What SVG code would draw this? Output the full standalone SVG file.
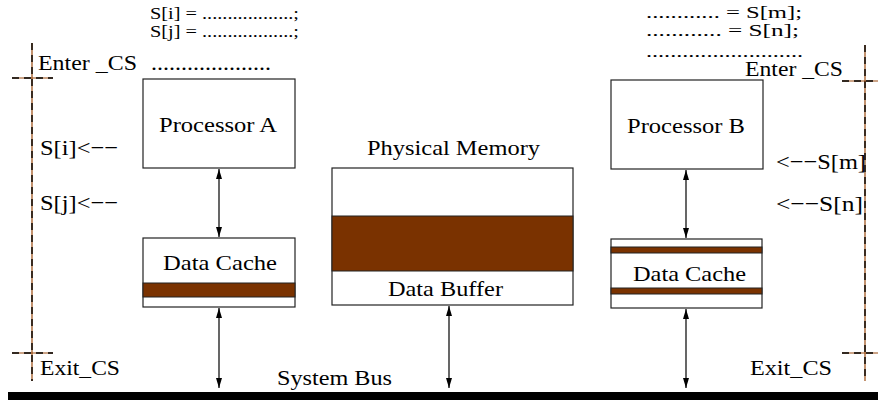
<svg xmlns="http://www.w3.org/2000/svg" width="878" height="400" viewBox="0 0 878 400" font-family="'Liberation Serif', 'DejaVu Serif', 'Times New Roman', serif">
  <style>
    text { font-family: "Liberation Serif", "DejaVu Serif", "Times New Roman", serif; font-size: 22px; fill: #000; }
    .code { font-size: 16.5px; }
    .box { fill: #fff; stroke: #222; stroke-width: 1.2; }
    .band { fill: #7a3200; stroke: #222; stroke-width: 1; }
    .guide { stroke: #9a4a10; stroke-width: 1.2; fill: none; }
    .dash { stroke: #000; stroke-width: 1.4; stroke-dasharray: 7 5; fill: none; }
    .link { stroke: #000; stroke-width: 1.2; fill: none; marker-start: url(#head); marker-end: url(#head); }
  </style>
  <defs>
    <marker id="head" viewBox="0 0 10 10" refX="10" refY="5" markerWidth="10" markerHeight="10" markerUnits="userSpaceOnUse" orient="auto-start-reverse">
      <path d="M0,2 L10,5 L0,8 Z" fill="#000"/>
    </marker>
  </defs>
  <rect width="878" height="400" fill="#fff"/>

  <!-- critical-section guides, left -->
  <g id="guide-left">
    <line class="guide" x1="32" y1="43" x2="32" y2="381"/>
    <line class="dash" x1="32" y1="43" x2="32" y2="381"/>
    <line class="guide" x1="12" y1="78" x2="53" y2="78"/>
    <line class="dash" x1="12" y1="78" x2="53" y2="78"/>
    <line class="guide" x1="12" y1="353" x2="53" y2="353"/>
    <line class="dash" x1="12" y1="353" x2="53" y2="353"/>
  </g>
  <!-- critical-section guides, right -->
  <g id="guide-right">
    <line class="guide" x1="865" y1="45" x2="865" y2="381"/>
    <line class="dash" x1="865" y1="45" x2="865" y2="381"/>
    <line class="guide" x1="842" y1="81" x2="878" y2="81"/>
    <line class="dash" x1="842" y1="81" x2="878" y2="81"/>
    <line class="guide" x1="842" y1="353" x2="878" y2="353"/>
    <line class="dash" x1="842" y1="353" x2="878" y2="353"/>
  </g>

  <!-- code annotations, processor A side -->
  <g id="code-a">
    <text class="code" x="150" y="19" textLength="149" lengthAdjust="spacingAndGlyphs">S[i] = ..................;</text>
    <text class="code" x="150" y="37" textLength="149" lengthAdjust="spacingAndGlyphs">S[j] = ..................;</text>
    <text x="38" y="70" textLength="99" lengthAdjust="spacingAndGlyphs">Enter _CS</text>
    <text x="151" y="70" textLength="120" lengthAdjust="spacingAndGlyphs">....................</text>
    <text x="40" y="155" textLength="78" lengthAdjust="spacingAndGlyphs">S[i]&lt;−−</text>
    <text x="40" y="210" textLength="78" lengthAdjust="spacingAndGlyphs">S[j]&lt;−−</text>
    <text x="40" y="375" textLength="80" lengthAdjust="spacingAndGlyphs">Exit_CS</text>
  </g>

  <!-- code annotations, processor B side -->
  <g id="code-b">
    <text class="code" x="646" y="18" textLength="156" lengthAdjust="spacingAndGlyphs">............ = S[m];</text>
    <text class="code" x="646" y="36" textLength="153" lengthAdjust="spacingAndGlyphs">............ = S[n];</text>
    <text class="code" x="646" y="57" textLength="157" lengthAdjust="spacingAndGlyphs">..........................</text>
    <text x="745" y="76" textLength="98" lengthAdjust="spacingAndGlyphs">Enter _CS</text>
    <text x="776" y="169" textLength="90" lengthAdjust="spacingAndGlyphs">&lt;−−S[m]</text>
    <text x="776" y="211" textLength="87" lengthAdjust="spacingAndGlyphs">&lt;−−S[n]</text>
    <text x="750" y="375" textLength="82" lengthAdjust="spacingAndGlyphs">Exit_CS</text>
  </g>

  <g id="processor-a">
    <rect class="box" x="143" y="79" width="152" height="89"/>
    <text x="159" y="132" textLength="118" lengthAdjust="spacingAndGlyphs">Processor A</text>
  </g>
  <g id="cache-a">
    <rect class="box" x="143" y="238" width="152" height="69"/>
    <rect class="band" x="143" y="283" width="152" height="14"/>
    <text x="163" y="270" textLength="114" lengthAdjust="spacingAndGlyphs">Data Cache</text>
  </g>

  <g id="memory">
    <text x="367" y="155" textLength="173" lengthAdjust="spacingAndGlyphs">Physical Memory</text>
    <rect class="box" x="332" y="168" width="241" height="137"/>
    <rect class="band" x="332" y="216" width="241" height="55"/>
    <text x="388" y="296" textLength="115" lengthAdjust="spacingAndGlyphs">Data Buffer</text>
  </g>

  <g id="processor-b">
    <rect class="box" x="611" y="80" width="152" height="89"/>
    <text x="627" y="133" textLength="118" lengthAdjust="spacingAndGlyphs">Processor B</text>
  </g>
  <g id="cache-b">
    <rect class="box" x="611" y="239" width="151" height="69"/>
    <rect class="band" x="611" y="247" width="151" height="6"/>
    <rect class="band" x="611" y="288" width="151" height="6"/>
    <text x="633" y="281" textLength="113" lengthAdjust="spacingAndGlyphs">Data Cache</text>
  </g>

  <g id="system-bus">
    <rect x="8" y="392" width="870" height="8" fill="#000"/>
    <text x="277" y="385" textLength="115" lengthAdjust="spacingAndGlyphs">System Bus</text>
  </g>

  <g id="connectors">
    <line class="link" x1="219" y1="169" x2="219" y2="237"/>
    <line class="link" x1="219" y1="308" x2="219" y2="388"/>
    <line class="link" x1="449" y1="306" x2="449" y2="388"/>
    <line class="link" x1="686" y1="170" x2="686" y2="238"/>
    <line class="link" x1="686" y1="309" x2="686" y2="388"/>
  </g>
</svg>
